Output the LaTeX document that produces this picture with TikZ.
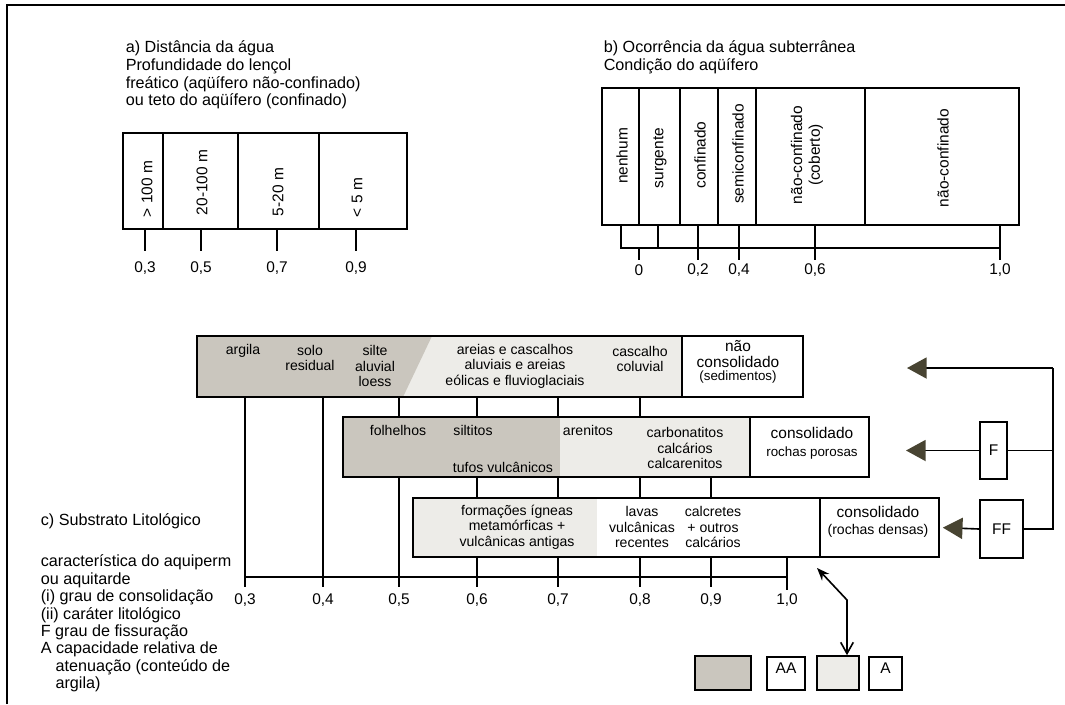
\documentclass[tikz,border=0pt]{standalone}
\usepackage{fontspec}
\setmainfont{Liberation Sans}
\usetikzlibrary{positioning,fit,arrows.meta}
\definecolor{argilagray}{RGB}{202,198,190}
\definecolor{palegray}{RGB}{237,236,232}
\definecolor{tipolive}{RGB}{72,68,50}
\tikzset{>=latex}
\tikzset{
  cell/.style={draw, line width=1.15pt, inner sep=0pt},
  title/.style={font=\fontsize{11.5}{12.6}\selectfont, align=left, inner sep=0pt},
  vert/.style={font=\fontsize{11}{12.6}\selectfont, rotate=90, inner sep=0pt, align=center},
  val/.style={font=\fontsize{11}{12}\selectfont, inner sep=0pt},
  rock/.style={font=\fontsize{10}{11}\selectfont, align=center, inner sep=0pt},
  big/.style={font=\fontsize{11}{12}\selectfont, align=center, inner sep=0pt},
  small/.style={font=\fontsize{9.5}{11}\selectfont, inner sep=0pt},
  fat/.style={-{Triangle[length=14pt,width=15pt,color=tipolive]}, line width=1.15pt},
}

\begin{document}
\begin{tikzpicture}[x=0.025cm, y=-0.025cm, line width=1.15pt]
\useasboundingbox (0,0) rectangle (1065,704);
\draw[line width=2pt] (7,704) -- (7,5) -- (1065,5);

% a) distancia da agua
\node[title, anchor=north west] (atit) at (125,40) {a) Distância da água\\Profundidade do lençol\\freático (aqüífero não-confinado)\\ou teto do aqüífero (confinado)};
\node[cell, fit={(123,133) (163,229)}] (a1) {};
\node[cell, fit={(163,133) (238,229)}] (a2) {};
\node[cell, fit={(238,133) (319,229)}] (a3) {};
\node[cell, fit={(319,133) (407,229)}] (a4) {};
\node[vert, anchor=west] (ta1) at (147,218) {> 100 m};
\node[vert, anchor=west] (ta2) at (202,216) {20-100 m};
\node[vert, anchor=west] (ta3) at (278,217) {5-20 m};
\node[vert, anchor=west] (ta4) at (357,218) {< 5 m};
\node[val] (va3) at (145,268) {0,3};
\node[val] (va5) at (201,268) {0,5};
\node[val] (va7) at (277,268) {0,7};
\node[val] (va9) at (356,268) {0,9};
\foreach \v in {va3,va5,va7,va9}
  \draw (a1.south -| \v) -- ++(0,21);

% b) ocorrencia da agua
\node[title, anchor=north west] (btit) at (603,40) {b) Ocorrência da água subterrânea\\Condição do aqüífero};
\node[cell, fit={(602,88) (639,225)}] (b1) {};
\node[cell, fit={(639,88) (680,225)}] (b2) {};
\node[cell, fit={(680,88) (718,225)}] (b3) {};
\node[cell, fit={(718,88) (756,225)}] (b4) {};
\node[cell, fit={(756,88) (865,225)}] (b5) {};
\node[cell, fit={(865,88) (1019,225)}] (b6) {};
\node[vert] (tb1) at (622,156) {nenhum};
\node[vert] (tb2) at (660,158) {surgente};
\node[vert] (tb3) at (700,155) {confinado};
\node[vert] (tb4) at (738,154) {semiconfinado};
\node[vert] (tb5) at (807,155) {não-confinado\\(coberto)};
\node[vert] (tb6) at (943,158) {não-confinado};
\node[val] (vb0) at (639,270) {0};
\node[val] (vb2) at (698,270) {0,2};
\node[val] (vb4) at (739,270) {0,4};
\node[val] (vb6) at (815,270) {0,6};
\node[val] (vb10) at (1000,270) {1,0};
\coordinate (bl) at (621,248);
\coordinate (bm) at (658,248);
\draw (b1.south -| bl) -- (bl) -- (vb10 |- bl);
\draw (b1.south -| bm) -- (bm);
\draw (vb0 |- bl) -- ++(0,12);
\foreach \v in {vb2,vb4,vb6,vb10}
  \draw (b1.south -| \v) -- (\v |- bl) -- ++(0,12);

% c) substrato litologico
\fill[palegray] (197,336) rectangle (682,397);
\fill[argilagray] (197,336) -- (432,336) -- (403,397) -- (197,397) -- cycle;
\fill[palegray] (343,417) rectangle (750,477);
\fill[argilagray] (343,417) rectangle (560,477);
\fill[palegray] (413,498) rectangle (597,557);
\node[cell, fit={(197,336) (682,397)}] (r1a) {};
\node[cell, fit={(682,336) (803,397)}] (r1b) {};
\node[cell, fit={(343,417) (750,477)}] (r2a) {};
\node[cell, fit={(750,417) (869,477)}] (r2b) {};
\node[cell, fit={(413,498) (820,557)}] (r3a) {};
\node[cell, fit={(820,498) (939,557)}] (r3b) {};

\node[rock] (argila) at (243,351) {argila};
\node[rock] (solo) at (310,358) {solo\\residual};
\node[rock] (silte) at (375,366) {silte\\aluvial\\loess};
\node[rock] (areias) at (515,366) {areias e cascalhos\\aluviais e areias\\eólicas e fluvioglaciais};
\node[rock] (cascalho) at (640,359) {cascalho\\coluvial};
\node[big] (naocons) at (738,354) {não\\consolidado};
\node[small] (sedim) at (738,377) {(sedimentos)};

\node[rock] (folhelhos) at (398,430) {folhelhos};
\node[rock] (siltitos) at (473,430) {siltitos};
\node[rock] (tufos) at (503,467) {tufos vulcânicos};
\node[rock] (arenitos) at (588,430) {arenitos};
\node[rock] (carbon) at (685,448) {carbonatitos\\calcários\\calcarenitos};
\node[big] (cons2) at (812,433) {consolidado};
\node[small] (porosas) at (812,453) {rochas porosas};

\node[rock] (igneas) at (517,527) {formações ígneas\\metamórficas +\\vulcânicas antigas};
\node[rock] (lavas) at (642,527) {lavas\\vulcânicas\\recentes};
\node[rock] (calcretes) at (713,527) {calcretes\\+ outros\\calcários};
\node[big] (cons3) at (878,512) {consolidado};
\node[rock] (densas) at (878,531) {(rochas densas)};

\coordinate (ax) at (0,577);
\node[val] (vc3) at (245,600) {0,3};
\node[val] (vc4) at (323,600) {0,4};
\node[val] (vc5) at (399,600) {0,5};
\node[val] (vc6) at (477,600) {0,6};
\node[val] (vc7) at (558,600) {0,7};
\node[val] (vc8) at (640,600) {0,8};
\node[val] (vc9) at (711,600) {0,9};
\node[val] (vc10) at (787,600) {1,0};
\draw (vc3 |- ax) -- (vc10 |- ax);
\foreach \v in {vc3,vc4}
  \draw (r1a.south -| \v) -- (\v |- ax) -- ++(0,10);
\foreach \v in {vc5,vc6,vc7,vc8}
  \draw (r1a.south -| \v) -- (r2a.north -| \v);
\draw (r2a.south -| vc5) -- (vc5 |- ax) -- ++(0,10);
\foreach \v in {vc6,vc7,vc8,vc9}
  \draw (r2a.south -| \v) -- (r3a.north -| \v);
\foreach \v in {vc6,vc7,vc8,vc9}
  \draw (r3a.south -| \v) -- (\v |- ax) -- ++(0,10);
\draw (r3a.south -| vc10) -- (vc10 |- ax) -- ++(0,13);

% fissuracao
\node[cell, big, minimum width=0.675cm, minimum height=1.425cm] (F) at (993.5,450.5) {F};
\node[cell, big, minimum width=1.075cm, minimum height=1.45cm] (FF) at (1001.5,529) {FF};
\coordinate (up) at (1053,368);
\coordinate (tip1) at (907,368);
\coordinate (tip2) at (906,450.5);
\draw[fat] (up) -- (tip1);
\draw (up) -- (up |- FF.east) -- (FF.east);
\draw (F.east) -- (F.east -| up);
\draw[fat] (F.west) -- (tip2);
\draw[fat, shorten >=0.075cm] (FF.west) -- (r3b.east);

% legenda
\node[title, anchor=west] (ctit) at (40,521) {c) Substrato Litológico};
\node[title, anchor=north west, font=\fontsize{11.5}{12.4}\selectfont] (cleg) at (40,554) {característica do aquiperm\\ou aquitarde\\(i) grau de consolidação\\(ii) caráter litológico\\F grau de fissuração\\A capacidade relativa de\\\hspace*{0.37cm}atenuação (conteúdo de\\\hspace*{0.37cm}argila)};
\node[cell, fill=argilagray, fit={(695,656) (751,690)}] (lg1) {};
\node[cell, big, fit={(767,657) (805,690)}] (lg2) {AA};
\node[cell, fill=palegray, fit={(817,656) (859,690)}] (lg3) {};
\node[cell, big, fit={(869,657) (902,690)}] (lg4) {A};
\coordinate (aim) at (817,568);
\coordinate (kink) at (847,600);
\draw[{Stealth[length=9pt,width=7pt]}-{Straight Barb[length=8pt,width=9pt]}] (aim) -- (kink) -- (kink |- lg3.north);
\end{tikzpicture}
\end{document}
